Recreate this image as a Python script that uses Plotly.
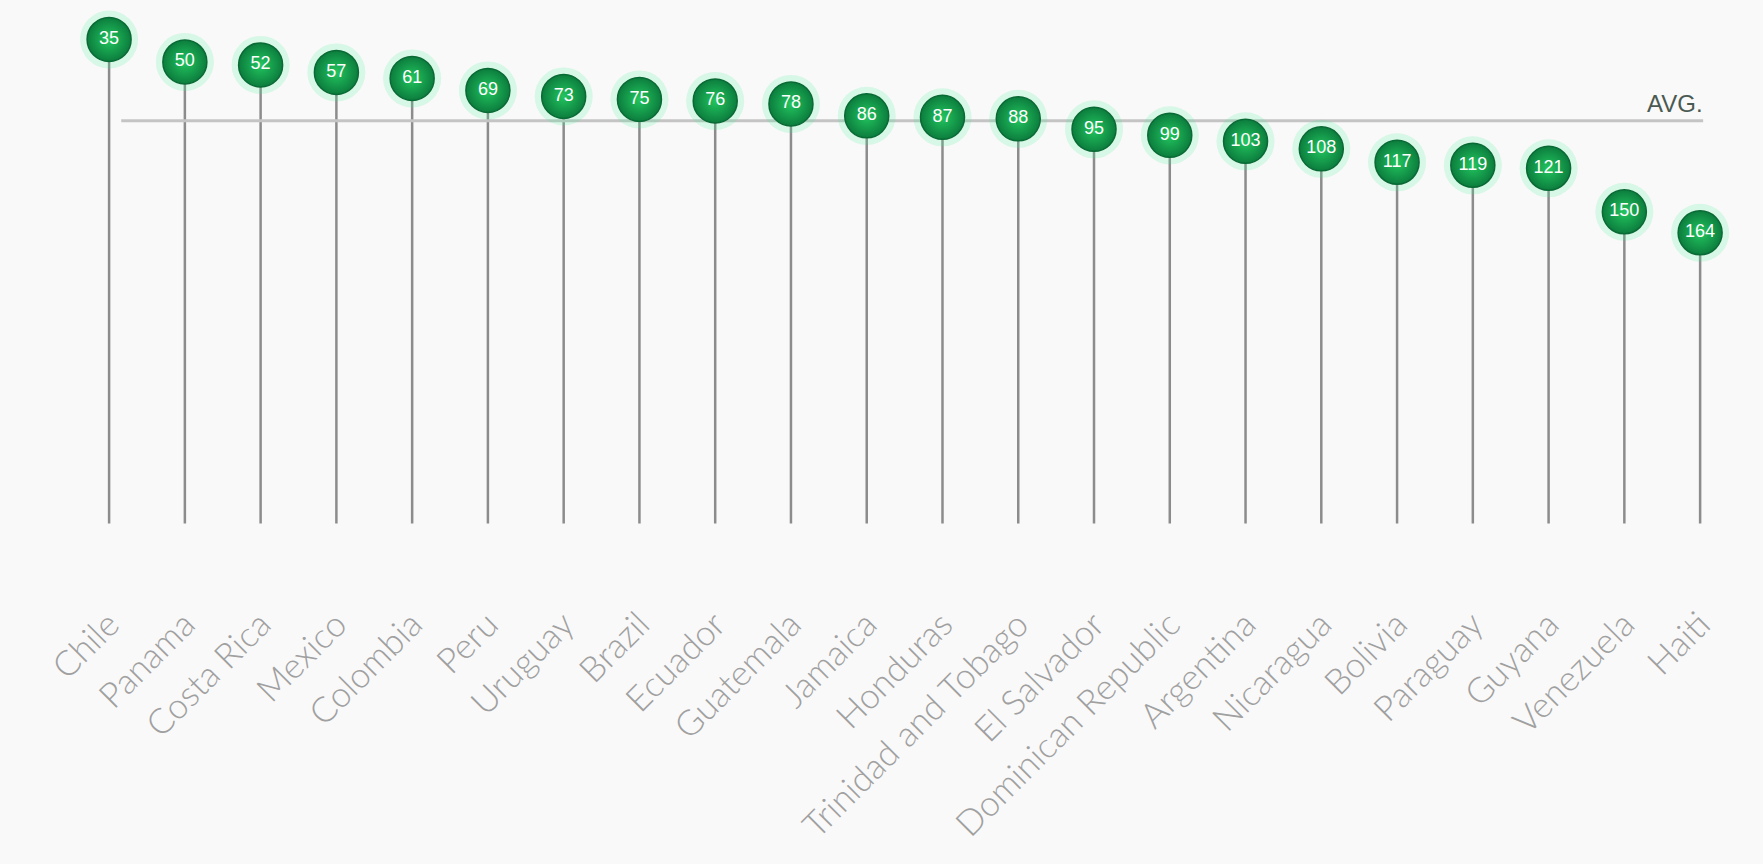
import plotly.graph_objects as go

countries = ["Chile", "Panama", "Costa Rica", "Mexico", "Colombia", "Peru", "Uruguay",
             "Brazil", "Ecuador", "Guatemala", "Jamaica", "Honduras", "Trinidad and Tobago",
             "El Salvador", "Dominican Republic", "Argentina", "Nicaragua", "Bolivia",
             "Paraguay", "Guyana", "Venezuela", "Haiti"]
values = [35, 50, 52, 57, 61, 69, 73, 75, 76, 78, 86, 87, 88, 95, 99, 103, 108, 117, 119, 121, 150, 164]

avg_value = sum(values) / len(values)
baseline = 358
y_range = [406.3, 8.7]
x_range = [-1.44, 21.83]

idx = list(range(len(countries)))

fig = go.Figure()

# stems
sx, sy = [], []
for i, v in zip(idx, values):
    sx += [i, i, None]
    sy += [v, baseline, None]
fig.add_trace(go.Scatter(x=sx, y=sy, mode="lines",
                         line=dict(color="#8c8c8c", width=2.5),
                         hoverinfo="skip", showlegend=False))

# average line
fig.add_trace(go.Scatter(x=[0.16, 21.04], y=[avg_value, avg_value], mode="lines",
                         line=dict(color="#c4c4c4", width=3),
                         hoverinfo="skip", showlegend=False))
fig.add_annotation(x=21.06, y=avg_value, text="AVG.", showarrow=False,
                   xanchor="right", yanchor="bottom", yshift=2,
                   font=dict(family="Liberation Sans, Arial", size=24, color="#4a5a52"))

# glow
fig.add_trace(go.Scatter(x=idx, y=values, mode="markers",
                         marker=dict(size=58, color="rgba(60,240,150,0.18)", line=dict(width=0)),
                         hoverinfo="skip", showlegend=False))

# circles
fig.add_trace(go.Scatter(x=idx, y=values, mode="markers+text",
                         text=[str(v) for v in values], textposition="middle center",
                         textfont=dict(family="Liberation Sans, Arial", size=18, color="white"),
                         marker=dict(size=44, color="#0c7d3e",
                                     gradient=dict(type="radial", color="#22c55e"),
                                     line=dict(color="#0a6a34", width=1.5)),
                         customdata=countries,
                         hovertemplate="%{customdata}: %{y}<extra></extra>",
                         showlegend=False))

fig.update_layout(
    width=1763, height=864,
    paper_bgcolor="#f9f9f9", plot_bgcolor="#f9f9f9",
    margin=dict(l=0, r=0, t=0, b=268),
    xaxis=dict(range=x_range, tickmode="array", tickvals=idx, ticktext=countries,
               tickangle=-45, showgrid=False, zeroline=False, showline=False,
               ticks="", tickfont=dict(family="Lato, Arial", size=35, color="#a0a0a0", weight=300)),
    yaxis=dict(range=y_range, visible=False, showgrid=False, zeroline=False),
)

fig.write_html("out.html")
